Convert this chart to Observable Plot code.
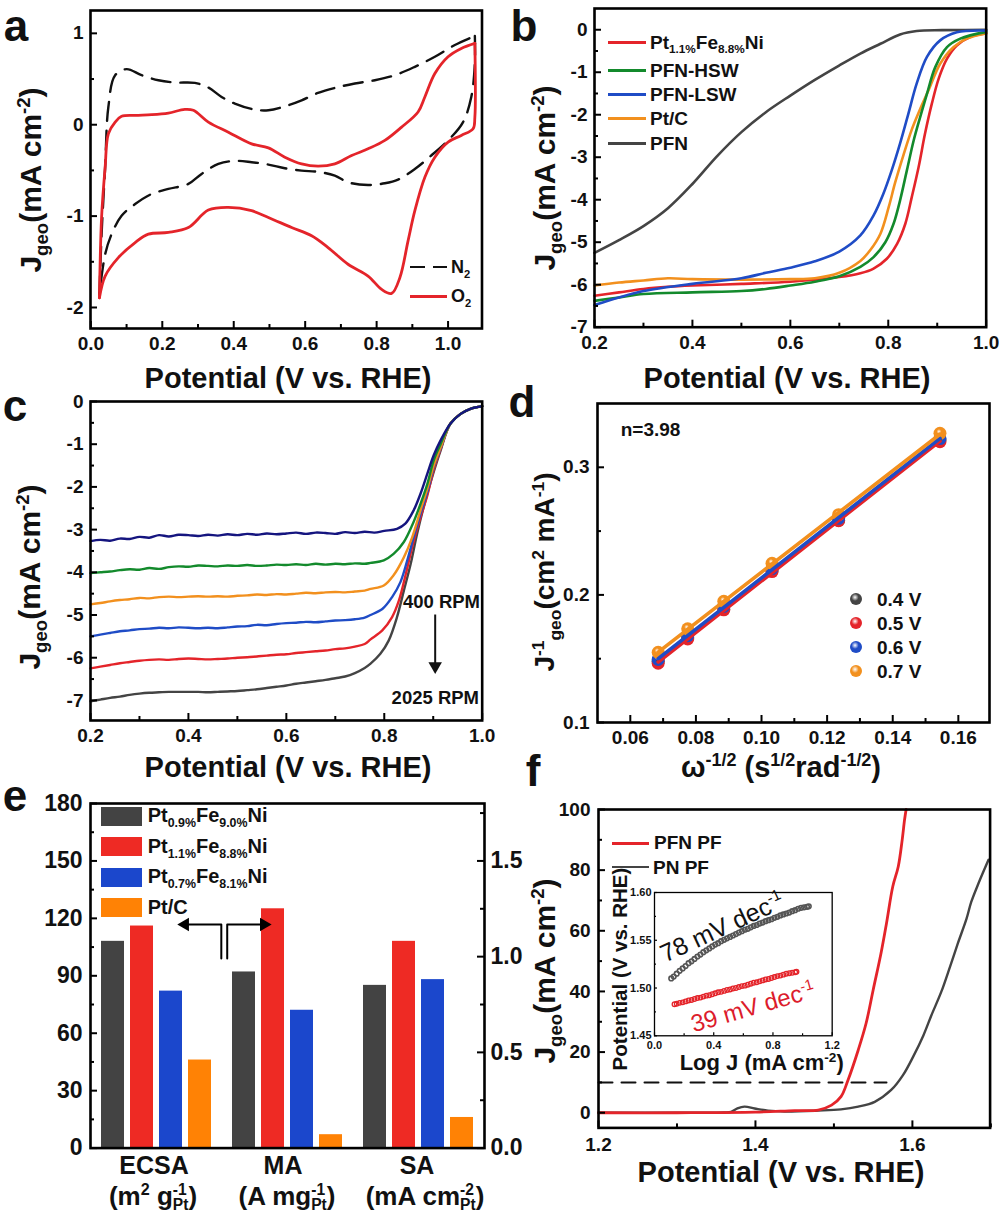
<!DOCTYPE html>
<html><head><meta charset="utf-8">
<script src="https://cdn.jsdelivr.net/npm/d3@7"></script>
<script src="https://cdn.jsdelivr.net/npm/@observablehq/plot@0.6"></script>
<style>
html,body{margin:0;background:#fff}
#page{position:relative;width:1000px;height:1213px;overflow:hidden;background:#fff;font-family:"Liberation Sans",Arial,sans-serif;font-weight:bold;color:#111}
#page>svg{position:absolute}
.t{position:absolute;white-space:nowrap;line-height:1}
.t sub,.t sup{font-size:.62em;line-height:0}
.sw{position:absolute}
</style></head><body><div id="page"></div>
<script>
// ---------- palette
const RED="#e4242a",GREEN="#138a2c",BLUE="#1f4cc6",ORANGE="#f2901e",GRAY="#444444",NAVY="#15157f";

// ---------- panel a: cyclic voltammograms
const aN2x=[.024,.030,.040,.049,.068,.100,.142,.189,.235,.291,.329,.366,.403,.459,.497,.543,.590,.636,.683,.739,.795,.851,.907,.963,1.019,1.075,1.075,1.065,1.042,1.000,.953,.907,.860,.823,.776,.720,.683,.636,.590,.543,.497,.450,.403,.357,.310,.273,.217,.170,.124,.086,.058,.040,.024];
const aN2y=[-1.86,-1.20,-.465,.194,.542,.608,.542,.487,.462,.458,.407,.304,.231,.165,.158,.201,.267,.348,.403,.451,.487,.542,.634,.744,.872,.971,.670,.304,.029,-.172,-.337,-.484,-.601,-.641,-.659,-.630,-.557,-.516,-.502,-.476,-.436,-.410,-.396,-.429,-.538,-.648,-.703,-.758,-.868,-.996,-1.198,-1.418,-1.857];
const aO2x=[.024,.030,.040,.049,.068,.086,.124,.170,.217,.263,.287,.329,.385,.450,.497,.543,.590,.636,.683,.730,.776,.823,.870,.916,.935,.963,1.000,1.037,1.075,1.075,1.070,1.037,1.000,.963,.935,.907,.888,.865,.842,.814,.776,.720,.664,.618,.562,.497,.450,.385,.329,.273,.217,.161,.124,.077,.040,.024];
const aO2y=[-1.894,-1.015,-.465,-.099,.029,.092,.103,.110,.128,.168,.158,.029,-.081,-.209,-.253,-.355,-.429,-.454,-.429,-.337,-.264,-.172,-.026,.139,.304,.560,.744,.835,.890,.08,-.044,-.117,-.190,-.355,-.575,-.941,-1.271,-1.674,-1.846,-1.802,-1.656,-1.527,-1.344,-1.216,-1.125,-1.015,-.941,-.905,-.934,-1.125,-1.179,-1.198,-1.289,-1.454,-1.656,-1.894];

// ---------- panel b: polarisation curves
const bRedX=[.2,.25,.3,.35,.4,.5,.6,.7,.743,.77,.797,.818,.835,.848,.862,.875,.889,.903,.92,.94,.967,1];
const bRedY=[-6.26,-6.18,-6.10,-6.05,-6.02,-5.98,-5.93,-5.82,-5.73,-5.62,-5.39,-5.04,-4.56,-3.94,-3.23,-2.45,-1.74,-1.15,-.68,-.37,-.17,-.09];
const bGreenX=[.2,.25,.3,.4,.5,.55,.6,.65,.7,.743,.77,.794,.811,.824,.838,.852,.865,.879,.896,.92,.947,1];
const bGreenY=[-6.38,-6.3,-6.22,-6.18,-6.15,-6.1,-6.02,-5.93,-5.8,-5.58,-5.35,-5.0,-4.56,-4.02,-3.31,-2.6,-2.06,-1.51,-.88,-.41,-.21,-.05];
const bBlueX=[.2,.25,.3,.4,.5,.55,.6,.65,.7,.743,.77,.79,.807,.824,.841,.858,.879,.906,.94,1];
const bBlueY=[-6.48,-6.3,-6.15,-5.98,-5.85,-5.72,-5.6,-5.45,-5.22,-4.84,-4.37,-3.86,-3.31,-2.68,-1.98,-1.27,-.64,-.25,-.06,-.02];
const bOrangeX=[.2,.25,.3,.35,.4,.5,.6,.65,.7,.743,.763,.784,.801,.814,.831,.848,.865,.882,.906,.933,.96,1];
const bOrangeY=[-6.02,-5.95,-5.9,-5.85,-5.87,-5.88,-5.87,-5.85,-5.72,-5.44,-5.19,-4.8,-4.17,-3.6,-2.95,-2.35,-1.87,-1.43,-.8,-.41,-.21,-.08];
const bGrayX=[.2,.25,.3,.35,.4,.45,.5,.55,.6,.65,.7,.743,.784,.824,.858,.91,1];
const bGrayY=[-5.25,-4.95,-4.62,-4.2,-3.63,-2.98,-2.41,-1.94,-1.55,-1.18,-.84,-.56,-.33,-.11,-.03,-.01,0];

// ---------- panel c: rotation-speed series
const cX=[.2,.22,.24,.26,.28,.3,.32,.34,.36,.38,.4,.42,.44,.46,.48,.5,.52,.54,.56,.58,.6,.62,.64,.66,.68,.7,.72,.74,.76];
const cEndX=[.935,.956,.976,1];
const cEndY=[-.52,-.29,-.17,-.11];
const cGray=[-7.02,-6.98,-6.94,-6.91,-6.87,-6.84,-6.82,-6.81,-6.8,-6.8,-6.8,-6.8,-6.81,-6.8,-6.79,-6.78,-6.76,-6.74,-6.71,-6.68,-6.65,-6.61,-6.58,-6.55,-6.52,-6.48,-6.44,-6.36,-6.24];
const cRed=[-6.25,-6.21,-6.17,-6.13,-6.1,-6.07,-6.05,-6.04,-6.05,-6.03,-6.02,-6.03,-6.04,-6.03,-6.02,-6.0,-5.99,-5.97,-5.95,-5.93,-5.92,-5.89,-5.87,-5.85,-5.83,-5.8,-5.78,-5.74,-5.68];
const cBlue=[-5.5,-5.46,-5.42,-5.38,-5.36,-5.33,-5.32,-5.3,-5.31,-5.29,-5.3,-5.31,-5.3,-5.31,-5.29,-5.27,-5.26,-5.23,-5.24,-5.21,-5.19,-5.18,-5.16,-5.17,-5.15,-5.13,-5.12,-5.1,-5.06];
const cOrange=[-4.75,-4.72,-4.68,-4.65,-4.63,-4.6,-4.61,-4.58,-4.57,-4.58,-4.57,-4.56,-4.57,-4.56,-4.57,-4.55,-4.54,-4.52,-4.53,-4.51,-4.52,-4.5,-4.48,-4.49,-4.47,-4.46,-4.47,-4.45,-4.43];
const cGreen=[-4.02,-4.0,-3.98,-3.95,-3.93,-3.94,-3.9,-3.92,-3.88,-3.86,-3.87,-3.84,-3.85,-3.86,-3.84,-3.85,-3.83,-3.85,-3.84,-3.82,-3.83,-3.81,-3.83,-3.8,-3.82,-3.8,-3.81,-3.79,-3.8];
const cNavy=[-3.27,-3.24,-3.26,-3.21,-3.22,-3.17,-3.19,-3.13,-3.16,-3.12,-3.13,-3.15,-3.12,-3.14,-3.11,-3.13,-3.10,-3.12,-3.09,-3.11,-3.09,-3.07,-3.10,-3.07,-3.08,-3.10,-3.06,-3.08,-3.05];
const cGrayRiseX=[.772,.792,.809,.826,.84,.854,.867,.884,.901,.915];
const cGrayRiseY=[-6.14,-5.91,-5.6,-5.05,-4.43,-3.8,-3.1,-2.32,-1.65,-1.15];
const cRedRiseX=[.772,.796,.816,.83,.844,.857,.874,.888,.901,.915];
const cRedRiseY=[-5.57,-5.36,-5.05,-4.66,-4.04,-3.41,-2.71,-2.2,-1.6,-1.12];
const cBlueRiseX=[.772,.796,.816,.833,.847,.86,.874,.888,.901,.915];
const cBlueRiseY=[-5.0,-4.86,-4.58,-4.23,-3.72,-3.18,-2.63,-2.12,-1.54,-1.1];
const cOrangeRiseX=[.772,.799,.819,.84,.857,.874,.888,.901,.915];
const cOrangeRiseY=[-4.39,-4.31,-4.07,-3.65,-3.18,-2.55,-2.04,-1.5,-1.08];
const cGreenRiseX=[.772,.799,.819,.84,.857,.874,.888,.901,.915];
const cGreenRiseY=[-3.78,-3.72,-3.57,-3.29,-2.9,-2.4,-1.93,-1.38,-1.0];
const cNavyRiseX=[.78,.8,.826,.843,.86,.874,.888,.901,.915];
const cNavyRiseY=[-3.07,-3.03,-2.98,-2.86,-2.55,-2.16,-1.69,-1.26,-.91];

// ---------- panel d: Koutecky-Levich points
const dX=[.0685,.0775,.0885,.1032,.1235,.1544];
const d04=[.148,.1665,.189,.219,.2585,.3215];
const d05=[.1465,.1655,.1883,.2183,.2582,.3201];
const d06=[.1494,.168,.191,.2205,.26,.3225];
const d07=[.155,.1734,.195,.2248,.2629,.3266];

// ---------- panel e: bars
const eGroups=["ECSA","MA","SA"];
const eSeries=["Pt0.9%Fe9.0%Ni","Pt1.1%Fe8.8%Ni","Pt0.7%Fe8.1%Ni","Pt/C"];
const eColors=["#434343","#ee2a24","#1b47cc","#ff8205"];
const eEcsa=[108,116,82,46];
const eMa=[92,125,72,7];
const eSa=[85,108,88,16];

// ---------- panel f: OER curves and Tafel inset
const fRedX=[1.2,1.3,1.4,1.45,1.48,1.497,1.509,1.518,1.531,1.541,1.55,1.56,1.567,1.575,1.582,1.587,1.59,1.592];
const fRedY=[0,0,.2,.7,.9,2.5,5.3,10.8,20.7,29.5,40.5,52.6,62.5,74.6,81.2,90,96.6,100];
const fGrayX=[1.2,1.3,1.36,1.369,1.377,1.386,1.399,1.416,1.437,1.48,1.509,1.531,1.552,1.573,1.588,1.601,1.614,1.624,1.637,1.648,1.658,1.669,1.675,1.684,1.697];
const fGrayY=[0,0,.1,.3,1.4,2,1.4,.7,.4,.7,1.1,2,3.6,7.5,12.4,18.5,25.5,32,40,48.2,55.9,64,69.5,75.5,83.4];
const fRefX=[1.2,1.567];
const fRefY=[10,10];
const inGrayX=[.113,.13,.15,.17,.19,.21,.23,.25,.27,.29,.31,.33,.35,.37,.39,.41,.43,.45,.47,.49,.51,.53,.55,.57,.59,.61,.63,.65,.67,.69,.71,.73,.75,.77,.79,.81,.83,.85,.87,.89,.91,.93,.95,.97,.99,1.01,1.03,1.042];
const inGrayY=[1.510,1.512,1.515,1.518,1.5205,1.523,1.526,1.528,1.5305,1.533,1.535,1.5375,1.5395,1.5415,1.5435,1.5455,1.547,1.549,1.5505,1.552,1.5535,1.555,1.5565,1.558,1.5595,1.561,1.562,1.5635,1.565,1.566,1.5675,1.5685,1.57,1.571,1.572,1.5735,1.5745,1.576,1.577,1.578,1.579,1.5805,1.5815,1.583,1.584,1.5845,1.585,1.5855];
const inRedX=[.135,.15,.17,.19,.21,.23,.25,.27,.29,.31,.33,.35,.37,.39,.41,.43,.45,.47,.49,.51,.53,.55,.57,.59,.61,.63,.65,.67,.69,.71,.73,.75,.77,.79,.81,.83,.85,.87,.89,.91,.93,.95,.959];
const inRedY=[1.483,1.4835,1.4845,1.485,1.486,1.487,1.4875,1.4885,1.4895,1.49,1.491,1.492,1.4925,1.4935,1.4945,1.4955,1.496,1.497,1.498,1.4985,1.4995,1.5,1.501,1.502,1.5025,1.5035,1.5045,1.5055,1.506,1.507,1.508,1.509,1.5095,1.5105,1.5115,1.5125,1.513,1.514,1.515,1.5155,1.516,1.5165,1.517];

const zip=(xs,ys)=>xs.map((x,i)=>({x,y:ys[i]}));
const page=document.getElementById("page");

// ---------- text helpers (positions of annotations only)
function txt(x,y,html,{size=19,anchor="c",rot=0,color="#111",weight="bold"}={}){
  const d=document.createElement("div");d.className="t";
  const tx=anchor==="c"?"-50%":anchor==="r"?"-100%":"0";
  d.style.cssText=`left:${x}px;top:${y}px;font-size:${size}px;color:${color};font-weight:${weight};transform:translate(${tx},-50%) rotate(${rot}deg)`;
  d.innerHTML=html;page.appendChild(d);
}
function sw(x1,x2,y,color,h=3,dash){
  const d=document.createElement("div");d.className="sw";
  d.style.cssText=`left:${x1}px;top:${y-h/2}px;width:${x2-x1}px;height:${h}px;`+(dash?`background:repeating-linear-gradient(90deg,${color} 0 ${dash[0]}px,transparent ${dash[0]}px ${dash[0]+dash[1]}px)`:`background:${color}`);
  page.appendChild(d);
}
const sts=(sup,sub)=>`<span style="display:inline-block;vertical-align:middle;font-size:.6em;line-height:.95;text-align:left">${sup}<br>${sub}</span>`;

// ---------- generic panel: frame, inward ticks, tick labels
function panel({box,xd,yd,xMajor,xMinor=[],yMajor,yMinor=[],xFmt,yFmt,fs=19,padX=8,padY=7,sw:fw=2.6,len=7,minLen=4,tw=2,right=null,marks=[]}){
  const [x0,y0,x1,y1]=box,W=x1-x0,H=y1-y0,ml=80,mr=50,mt=20,mb=45;
  const dy=(yd[1]-yd[0])/H,dx=(xd[1]-xd[0])/W;
  const tk=[
    Plot.ruleX(xMajor,{x:d=>d,y1:yd[0],y2:yd[0]+dy*len,stroke:"#000",strokeWidth:tw}),
    Plot.ruleX(xMinor,{x:d=>d,y1:yd[0],y2:yd[0]+dy*minLen,stroke:"#000",strokeWidth:tw}),
    Plot.ruleY(yMajor,{y:d=>d,x1:xd[0],x2:xd[0]+dx*len,stroke:"#000",strokeWidth:tw}),
    Plot.ruleY(yMinor,{y:d=>d,x1:xd[0],x2:xd[0]+dx*minLen,stroke:"#000",strokeWidth:tw})
  ];
  if(right) tk.push(
    Plot.ruleY(right.major,{y:d=>d,x1:xd[1],x2:xd[1]-dx*len,stroke:"#000",strokeWidth:tw}),
    Plot.ruleY(right.minor,{y:d=>d,x1:xd[1],x2:xd[1]-dx*minLen,stroke:"#000",strokeWidth:tw}),
    Plot.axisY(right.major,{anchor:"right",tickSize:0,tickPadding:right.pad,tickFormat:right.fmt,label:null,fontSize:right.fs})
  );
  const axes=[];
  if(xFmt) axes.push(Plot.axisX(xMajor,{tickSize:0,tickPadding:padX,tickFormat:xFmt,label:null,fontSize:fs}));
  else axes.push(Plot.axisX([], {label:null}));
  axes.push(Plot.axisY(yMajor,{tickSize:0,tickPadding:padY,tickFormat:yFmt,label:null,fontSize:fs}));
  const svg=Plot.plot({
    width:W+ml+mr,height:H+mt+mb,marginLeft:ml,marginRight:mr,marginTop:mt,marginBottom:mb,
    x:{domain:xd},y:{domain:yd},
    style:{background:"transparent",fontFamily:'"Liberation Sans",Arial,sans-serif',fontWeight:"bold",fontSize:fs+"px",overflow:"visible",color:"#111",maxWidth:"none"},
    marks:[...marks,...tk,...axes,Plot.frame({stroke:"#000",strokeWidth:fw})]
  });
  svg.style.position="absolute";svg.style.left=(x0-ml)+"px";svg.style.top=(y0-mt)+"px";svg.style.maxWidth="none";
  page.appendChild(svg);
}
const ln=(xs,ys,stroke,w=2.6,extra={})=>Plot.line(zip(xs,ys),{x:"x",y:"y",stroke,strokeWidth:w,curve:"catmull-rom",...extra});
const f1=d=>d.toFixed(1),f0=d=>String(d),f2=d=>d.toFixed(2);

// ---------- a
const n2Dash={strokeDasharray:"19 10"};
panel({box:[90,10,481.5,328],xd:[-.001,1.095],yd:[-2.23,1.25],xMajor:[0,.2,.4,.6,.8,1],xMinor:[.1,.3,.5,.7,.9],yMajor:[-2,-1,0,1],yMinor:[-1.5,-.5,.5],xFmt:f1,yFmt:f0,
  marks:[ln(aN2x.slice(0,26),aN2y.slice(0,26),"#111",2.4,n2Dash),ln(aN2x.slice(25),aN2y.slice(25),"#111",2.4,n2Dash),
         ln(aO2x.slice(0,29),aO2y.slice(0,29),RED,2.8),ln(aO2x.slice(28),aO2y.slice(28),RED,2.8)]});
// ---------- b
panel({box:[594.3,8,986,326.7],xd:[.2,1],yd:[-7,.5],xMajor:[.2,.4,.6,.8,1],xMinor:[.3,.5,.7,.9],yMajor:[0,-1,-2,-3,-4,-5,-6,-7],yMinor:[-.5,-1.5,-2.5,-3.5,-4.5,-5.5,-6.5],xFmt:f1,yFmt:f0,
  marks:[ln(bGrayX,bGrayY,GRAY),ln(bRedX,bRedY,RED),ln(bOrangeX,bOrangeY,ORANGE),ln(bGreenX,bGreenY,GREEN),ln(bBlueX,bBlueY,BLUE)]});
// ---------- c
const cSeries=(plateau,rx,ry,color)=>ln(cX.concat(rx,cEndX),plateau.concat(ry,cEndY),color,2.4);
panel({box:[90,401,481.7,720],xd:[.2,1],yd:[-7.47,0],xMajor:[.2,.4,.6,.8,1],xMinor:[.3,.5,.7,.9],yMajor:[0,-1,-2,-3,-4,-5,-6,-7],yMinor:[-.5,-1.5,-2.5,-3.5,-4.5,-5.5,-6.5],xFmt:f1,yFmt:f0,
  marks:[cSeries(cGray,cGrayRiseX,cGrayRiseY,GRAY),cSeries(cRed,cRedRiseX,cRedRiseY,RED),cSeries(cBlue,cBlueRiseX,cBlueRiseY,BLUE),cSeries(cOrange,cOrangeRiseX,cOrangeRiseY,ORANGE),cSeries(cGreen,cGreenRiseX,cGreenRiseY,GREEN),cSeries(cNavy,cNavyRiseX,cNavyRiseY,NAVY),
    Plot.ruleX([.904],{y1:-5,y2:-6.2,stroke:"#111",strokeWidth:2}),
    Plot.dot([.904],{x:d=>d,y:-6.2,symbol:"triangle",r:5,rotate:180,fill:"#111"})]});
// ---------- d
const sphere=(color,id)=>`<radialGradient id="${id}" cx=".42" cy=".36" r=".62"><stop offset="0" stop-color="#fff"/><stop offset=".3" stop-color="${color}"/><stop offset="1" stop-color="${color}"/></radialGradient>`;
const defs=document.createElementNS("http://www.w3.org/2000/svg","svg");
defs.setAttribute("width",0);defs.setAttribute("height",0);
defs.innerHTML=`<defs>${sphere(GRAY,"sg")}${sphere(RED,"sr")}${sphere(BLUE,"sb")}${sphere(ORANGE,"so")}</defs>`;
page.appendChild(defs);
const dSeries=[[d04,GRAY,"sg"],[d05,RED,"sr"],[d06,BLUE,"sb"],[d07,ORANGE,"so"]];
panel({box:[597.3,403.3,989.3,722.3],xd:[.05,.1695],yd:[.1,.35],xMajor:[.06,.08,.1,.12,.14,.16],xMinor:[.07,.09,.11,.13,.15],yMajor:[.1,.2,.3],yMinor:[.15,.25],xFmt:f2,yFmt:f1,padY:8,
  marks:[...dSeries.map(([y,c,g])=>Plot.dot(zip(dX,y),{x:"x",y:"y",r:6.5,fill:`url(#${g})`})),
    ...dSeries.map(([y,c])=>Plot.linearRegressionY(zip(dX,y),{x:"x",y:"y",stroke:c,strokeWidth:3.6,ci:0}))]});
// ---------- e
const eTable=[[eGroups[0],eEcsa],[eGroups[1],eMa],[eGroups[2],eSa]].flatMap(([group,vals])=>vals.map((value,i)=>({group,series:eSeries[i],value})));
const eBox=[90,802.7,484,1147.3];
const eBars=Plot.plot({
  width:394,height:344.6,marginLeft:0,marginRight:0,marginTop:0,marginBottom:0,
  fx:{domain:eGroups,padding:0,axis:null},
  x:{domain:eSeries,paddingInner:.2,paddingOuter:.29,axis:null},
  y:{domain:[0,180],axis:null},
  color:{domain:eSeries,range:eColors},
  style:{background:"transparent",maxWidth:"none"},
  marks:[Plot.barY(eTable,{fx:"group",x:"series",y:"value",fill:"series"})]
});
eBars.style.position="absolute";eBars.style.left=eBox[0]+"px";eBars.style.top=eBox[1]+"px";
page.appendChild(eBars);
panel({box:eBox,xd:[0,1],yd:[0,180],xMajor:[],yMajor:[0,30,60,90,120,150,180],yMinor:[15,45,75,105,135,165],yFmt:f0,fs:23,padY:8,
  right:{major:[0,50,100,150],minor:[25,75,125,175],fmt:d=>(d/100).toFixed(1),pad:6,fs:23},
  marks:[
    Plot.line(zip([.332,.332,.235],[99,116.8,116.8]),{x:"x",y:"y",stroke:"#000",strokeWidth:2}),
    Plot.line(zip([.347,.347,.445],[99,116.8,116.8]),{x:"x",y:"y",stroke:"#000",strokeWidth:2}),
    Plot.dot([.24],{x:d=>d,y:116.8,symbol:"triangle",r:5,rotate:-90,fill:"#000"}),
    Plot.dot([.44],{x:d=>d,y:116.8,symbol:"triangle",r:5,rotate:90,fill:"#000"})]});
// ---------- f
panel({box:[597.7,809.3,989.3,1127.7],xd:[1.2,1.699],yd:[-5,100],xMajor:[1.2,1.4,1.6],xMinor:[1.3,1.5,1.7],yMajor:[0,20,40,60,80,100],yMinor:[10,30,50,70,90],xFmt:f1,yFmt:f0,padX:10,padY:8,
  marks:[Plot.line(zip(fRefX,fRefY),{x:"x",y:"y",stroke:"#111",strokeWidth:2,strokeDasharray:"14 9"}),
    ln(fGrayX,fGrayY,GRAY,2.4),ln(fRedX,fRedY,RED,2.8)]});
// ---------- f inset
panel({box:[654,891.7,831.7,1035],xd:[0,1.2],yd:[1.45,1.6],xMajor:[0,.4,.8,1.2],xMinor:[.2,.6,1],yMajor:[1.45,1.5,1.55,1.6],yMinor:[1.475,1.525,1.575],xFmt:f1,yFmt:f2,fs:11,padX:5.5,padY:3,sw:1.3,len:3,minLen:2,tw:1.2,
  marks:[Plot.dot(zip(inGrayX,inGrayY),{x:"x",y:"y",r:2.3,stroke:"#555",strokeWidth:1.6,fill:"none"}),
    Plot.dot(zip(inRedX,inRedY),{x:"x",y:"y",r:2.3,stroke:RED,strokeWidth:1.3,fill:"none"})]});

// ---------- letters
[["a",16,26],["b",524,26],["c",15,406],["d",522,402],["e",15,796],["f",533,771]].forEach(([s,x,y])=>txt(x,y,s,{size:44}));
// ---------- axis titles
const POT="Potential (V vs. RHE)",JG="J<sub>geo</sub>(mA cm<sup>-2</sup>)";
[[288,378],[787,378],[288,767],[781,1172]].forEach(([x,y])=>txt(x,y,POT,{size:29}));
txt(781,767,"ω<sup>-1/2</sup> (s<sup>1/2</sup>rad<sup>-1/2</sup>)",{size:29});
[[31,180],[545,178],[30,577],[545,971]].forEach(([x,y])=>txt(x,y,JG,{size:30,rot:-90}));
txt(545,572,"J<sup>-1</sup><sub>geo</sub>(cm<sup>2</sup> mA<sup>-1</sup>)",{size:28,rot:-90});
// ---------- a legend
sw(410,447,267,"#111",2.5,[15,8]);txt(451,267,"N<sub>2</sub>",{size:18,anchor:"l"});
sw(410,447,296,RED,3);txt(451,296,"O<sub>2</sub>",{size:18,anchor:"l"});
// ---------- b legend
[[42,RED,"Pt<sub>1.1%</sub>Fe<sub>8.8%</sub>Ni"],[70,GREEN,"PFN-HSW"],[94,BLUE,"PFN-LSW"],[118,ORANGE,"Pt/C"],[143,GRAY,"PFN"]].forEach(([y,c,s])=>{sw(608,646,y,c,3);txt(650,y,s,{size:19,anchor:"l"});});
// ---------- c notes
txt(480,602,"400 RPM",{size:18.5,anchor:"r"});txt(479,698,"2025 RPM",{size:18.5,anchor:"r"});
// ---------- d notes
txt(620.7,429,"n=3.98",{size:19,anchor:"l"});
[[599,GRAY,"0.4 V"],[623,RED,"0.5 V"],[647,BLUE,"0.6 V"],[671,ORANGE,"0.7 V"]].forEach(([y,c,s])=>{
  const d=document.createElement("div");d.className="sw";
  d.style.cssText=`left:850px;top:${y-6}px;width:12px;height:12px;border-radius:50%;background:radial-gradient(circle at 42% 36%,#fff 0,${c} 35%,${c} 100%)`;
  page.appendChild(d);txt(877,y,s,{size:19,anchor:"l"});
});
// ---------- e legend and labels
const eLegend=["Pt<sub>0.9%</sub>Fe<sub>9.0%</sub>Ni","Pt<sub>1.1%</sub>Fe<sub>8.8%</sub>Ni","Pt<sub>0.7%</sub>Fe<sub>8.1%</sub>Ni","Pt/C"];
[816,846.5,877,907.5].forEach((y,i)=>{sw(101,141.7,y,eColors[i],19);txt(147.7,y-1,eLegend[i],{size:20,anchor:"l"});});
[[154,1165,"ECSA"],[283,1165,"MA"],[417,1165,"SA"]].forEach(([x,y,s])=>txt(x,y,s,{size:25}));
txt(153,1198,"(m<sup>2</sup> g"+sts("-1","Pt")+")",{size:26});
txt(287,1198,"(A mg"+sts("-1","Pt")+")",{size:26});
txt(425,1198,"(mA cm"+sts("-2","Pt")+")",{size:26});
// ---------- f legend and inset
sw(612,649,843,RED,3);txt(654,842,"PFN PF",{size:19,anchor:"l"});
sw(612,649,867,GRAY,2.4);txt(653,867,"PN PF",{size:19,anchor:"l"});
txt(620,969,POT,{size:20.5,rot:-90});
txt(761.7,1063,"Log J (mA cm<sup>-2</sup>)",{size:22});
txt(721.7,927,"78 mV dec<sup>-1</sup>",{size:25,rot:-25,weight:"normal"});
txt(753,1007,"39 mV dec<sup>-1</sup>",{size:24,rot:-16,weight:"normal",color:"#dc1c2c"});
</script></body></html>
